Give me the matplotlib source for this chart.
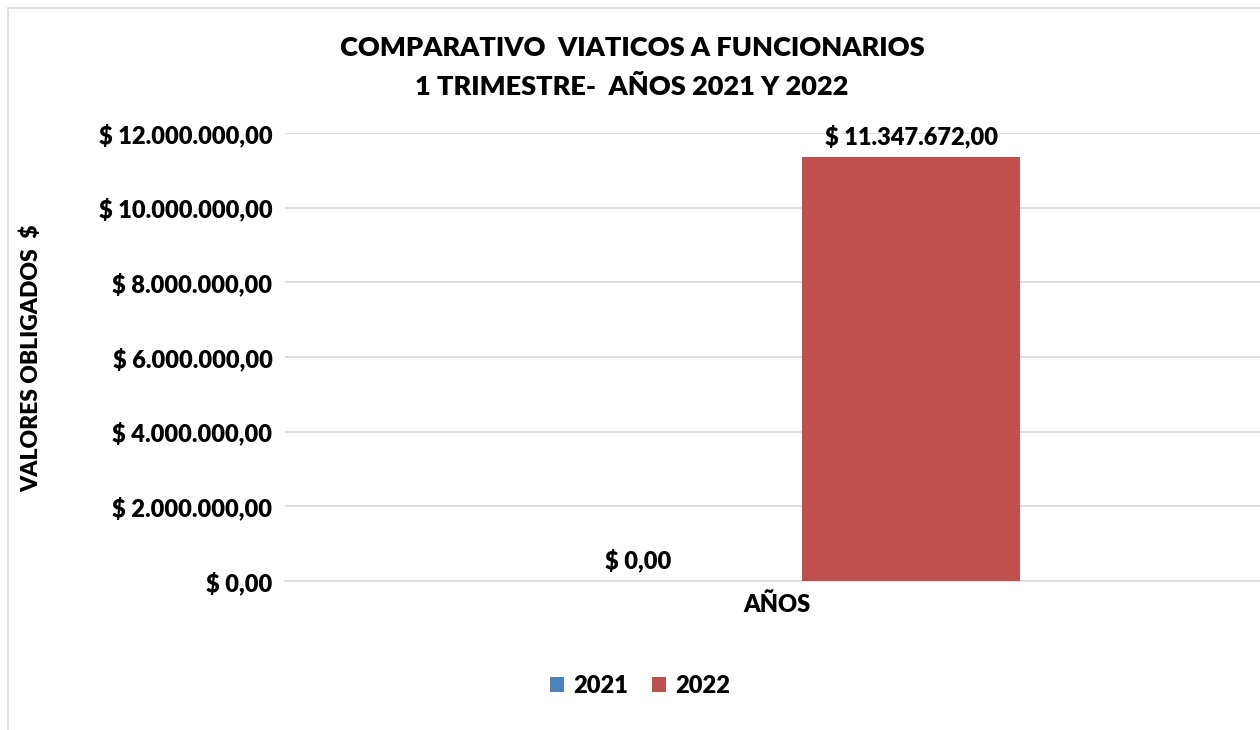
import matplotlib.pyplot as plt
from matplotlib.patches import Rectangle

# datos
categorias = ["AÑOS"]
anios = ["2021", "2022"]
valores = [0.00, 11347672.00]
colores = ["#4f81bd", "#c0504d"]
ticks = [0, 2000000, 4000000, 6000000, 8000000, 10000000, 12000000]


def pesos(v):
    s = f"{v:,.2f}"
    s = s.replace(",", "X").replace(".", ",").replace("X", ".")
    return "$ " + s


plt.rcParams['font.family'] = ['Lato', 'DejaVu Sans']
plt.rcParams['font.weight'] = 'bold'
peso = "heavy"

fig = plt.figure(figsize=(12.6, 7.3), dpi=100)

# recuadro del gráfico
fig.patches.append(Rectangle((8 / 1260, -0.1), 1.2, (730 - 8) / 730 + 0.1,
                             transform=fig.transFigure, fill=False,
                             ec="#d9d9d9", lw=1.2))

ax = fig.add_axes([285 / 1260, (730 - 581) / 730, 984 / 1260, 448 / 730])
ancho = 0.2215
offs = [-0.1415, 0.1365]
for i, (a, v, c) in enumerate(zip(anios, valores, colores)):
    ax.bar(0 + offs[i], v, width=ancho, color=c, label=a, zorder=3)
    ax.text(0 + offs[i], v + 230000, pesos(v), ha="center", va="bottom",
            fontsize=17, fontweight=peso)

ax.set_xlim(-0.5, 0.5)
ax.set_ylim(0, 12000000)
ax.set_yticks(ticks)
ax.set_yticklabels([pesos(t) for t in ticks], fontsize=17, fontweight=peso)
ax.set_xticks([0])
ax.set_xticklabels(categorias, fontsize=17, fontweight=peso)
ax.tick_params(length=0, pad=9)
ax.grid(axis="y", color="#d9d9d9", lw=1.2, zorder=0)
for s in ["top", "right", "left"]:
    ax.spines[s].set_visible(False)
ax.spines["bottom"].set_color("#d9d9d9")
ax.spines["bottom"].set_linewidth(1.2)

fig.text(32 / 1260, 1 - 358 / 730, "VALORES OBLIGADOS  $", rotation=90,
         ha="center", va="center", fontsize=16.5, fontweight=peso)
fig.text(632 / 1260, 1 - 48 / 730, "COMPARATIVO  VIATICOS A FUNCIONARIOS",
         ha="center", va="center", fontsize=19.5, fontweight=peso)
fig.text(632 / 1260, 1 - 87 / 730, "1 TRIMESTRE-  AÑOS 2021 Y 2022",
         ha="center", va="center", fontsize=19.5, fontweight=peso)

fig.legend(loc="center", bbox_to_anchor=(640 / 1260, 1 - 686 / 730), ncol=2,
           frameon=False, prop={"size": 17, "weight": peso},
           handlelength=0.6, handleheight=0.6, columnspacing=1.0,
           handletextpad=0.4)

fig.savefig("out.png", dpi=100)
